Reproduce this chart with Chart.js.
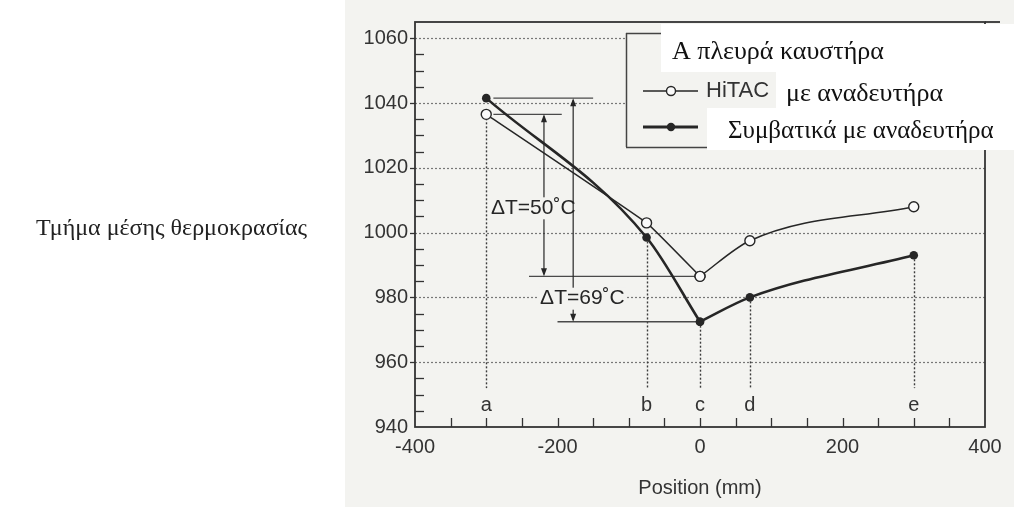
<!DOCTYPE html>
<html>
<head>
<meta charset="utf-8">
<script src="https://cdn.jsdelivr.net/npm/chart.js@4.4.0/dist/chart.umd.min.js"></script>
<style>
    html, body { margin: 0; padding: 0; background: #fff; }
    #wrap { position: relative; width: 1014px; height: 507px; overflow: hidden; }
    #tempChart { position: absolute; left: 0; top: 0; }
    #sideLabel {
        position: absolute; left: 36px; top: 213px; line-height: 28px;
        font-family: "Liberation Serif", "DejaVu Serif", serif; font-size: 24px; color: #222;
    }
</style>
</head>
<body>
<div id="wrap">
    <canvas id="tempChart" width="1014" height="507"></canvas>
    <div id="sideLabel">Τμήμα μέσης θερμοκρασίας</div>
</div>
<script>
// --- DATA ---
const positions = [-300, -75, 0, 70, 300];            // mm
const pointLetters = ['a', 'b', 'c', 'd', 'e'];
const hitacTemps = [1036.5, 1003, 986.5, 997.5, 1008];  // HiTAC with stirrer
const convTemps = [1041.5, 998.5, 972.5, 980, 993];     // conventional with stirrer
const xTickValues = [-400, -200, 0, 200, 400];
const yTickValues = [940, 960, 980, 1000, 1020, 1040, 1060];

const legendTitle = 'Α πλευρά καυστήρα';
const seriesNames = ['HiTAC', 'Συμβατικά με αναδευτήρα'];
const hitacSuffix = 'με αναδευτήρα';

// --- STYLE / LAYOUT ---
const paper = '#f3f3f0';
const ink = '#262626';
const sans = '"Liberation Sans", Arial, sans-serif';
const serif = '"Liberation Serif", "DejaVu Serif", serif';

// annotation placement in data units
const notes = {
    dropBottom: 952,
    letterY: 946.5,
    arrow50X: -219,
    arrow69X: -178,
    label50: { x: -234, y: 1007.5 },
    label69: { x: -165, y: 979.6 },
    topConvEnd: -150,
    topHitacEnd: -194,
    lowHitacStart: -240,
    lowConvStart: -200,
    refStart: -290
};

function toPx(chart, x, y) {
    return [chart.scales.x.getPixelForValue(x), chart.scales.y.getPixelForValue(y)];
}

function hLine(ctx, x1, x2, y) {
    ctx.beginPath(); ctx.moveTo(x1, y); ctx.lineTo(x2, y); ctx.stroke();
}

function vLine(ctx, x, y1, y2) {
    ctx.beginPath(); ctx.moveTo(x, y1); ctx.lineTo(x, y2); ctx.stroke();
}

function arrowHead(ctx, x, y, dir) {
    // dir = -1 points up, 1 points down; tip sits at (x, y)
    ctx.beginPath();
    ctx.moveTo(x, y);
    ctx.lineTo(x - 3, y - dir * 8);
    ctx.lineTo(x + 3, y - dir * 8);
    ctx.closePath();
    ctx.fill();
}

function dimArrow(ctx, x, yTop, yBottom) {
    vLine(ctx, x, yTop + 2, yBottom - 2);
    arrowHead(ctx, x, yTop, -1);
    arrowHead(ctx, x, yBottom, 1);
}

function boxedText(ctx, text, x, y) {
    ctx.font = '21px ' + sans;
    const w = ctx.measureText(text).width;
    ctx.fillStyle = paper;
    ctx.fillRect(x - w / 2 - 2, y - 11, w + 4, 22);
    ctx.fillStyle = ink;
    ctx.textAlign = 'center';
    ctx.textBaseline = 'middle';
    ctx.fillText(text, x, y);
}

// split a series at the minimum (point c) so the dip keeps its sharp corner
function segment(temps, from, to) {
    return positions.slice(from, to).map((p, i) => ({ x: p, y: temps[from + i] }));
}

const figurePlugin = {
    id: 'figurePlugin',
    beforeDraw(chart) {
        const ctx = chart.ctx;
        ctx.save();
        ctx.fillStyle = '#fff';
        ctx.fillRect(0, 0, chart.width, chart.height);
        ctx.fillStyle = paper;
        ctx.fillRect(345, 0, chart.width - 345, chart.height);
        ctx.restore();
    },
    beforeDatasetsDraw(chart) {
        const ctx = chart.ctx;
        const area = chart.chartArea;
        const ys = chart.scales.y;
        const xs = chart.scales.x;
        ctx.save();

        // dotted grid lines
        ctx.strokeStyle = '#777';
        ctx.lineWidth = 1.2;
        ctx.setLineDash([2, 2]);
        yTickValues.slice(1).forEach(v => hLine(ctx, area.left, area.right, Math.round(ys.getPixelForValue(v)) + 0.5));

        // dotted drops from each measuring point
        ctx.strokeStyle = '#3c3c3c';
        ctx.lineWidth = 1.4;
        ctx.setLineDash([2, 2]);
        positions.forEach((p, i) => {
            const low = Math.min(hitacTemps[i], convTemps[i]);
            const [x, y1] = toPx(chart, p, low);
            vLine(ctx, Math.round(x) + 0.5, y1 + 4, ys.getPixelForValue(notes.dropBottom));
        });
        ctx.setLineDash([]);

        // point letters
        ctx.fillStyle = '#333';
        ctx.font = '20px ' + sans;
        ctx.textAlign = 'center';
        ctx.textBaseline = 'middle';
        positions.forEach((p, i) => {
            const [x, y] = toPx(chart, p, notes.letterY);
            ctx.fillText(pointLetters[i], x, y);
        });

        // reference levels for the temperature spread
        ctx.strokeStyle = '#4a4a4a';
        ctx.lineWidth = 1.4;
        const xStart = xs.getPixelForValue(notes.refStart);
        hLine(ctx, xStart, xs.getPixelForValue(notes.topConvEnd), ys.getPixelForValue(convTemps[0]));
        hLine(ctx, xStart, xs.getPixelForValue(notes.topHitacEnd), ys.getPixelForValue(hitacTemps[0]));
        hLine(ctx, xs.getPixelForValue(notes.lowHitacStart), xs.getPixelForValue(0), ys.getPixelForValue(hitacTemps[2]));
        hLine(ctx, xs.getPixelForValue(notes.lowConvStart), xs.getPixelForValue(0), ys.getPixelForValue(convTemps[2]));

        // delta-T arrows and labels
        ctx.strokeStyle = ink;
        ctx.fillStyle = ink;
        ctx.lineWidth = 1.2;
        const dHitac = Math.round(hitacTemps[0] - hitacTemps[2]);
        const dConv = Math.round(convTemps[0] - convTemps[2]);
        dimArrow(ctx, xs.getPixelForValue(notes.arrow50X), ys.getPixelForValue(hitacTemps[0]), ys.getPixelForValue(hitacTemps[2]));
        boxedText(ctx, 'ΔT=' + dHitac + '˚C', xs.getPixelForValue(notes.label50.x), ys.getPixelForValue(notes.label50.y));
        ctx.strokeStyle = ink;
        ctx.fillStyle = ink;
        dimArrow(ctx, xs.getPixelForValue(notes.arrow69X), ys.getPixelForValue(convTemps[0]), ys.getPixelForValue(convTemps[2]));
        boxedText(ctx, 'ΔT=' + dConv + '˚C', xs.getPixelForValue(notes.label69.x), ys.getPixelForValue(notes.label69.y));

        // frame
        ctx.strokeStyle = '#333';
        ctx.lineWidth = 1.8;
        ctx.strokeRect(area.left, area.top, area.right - area.left, area.bottom - area.top);
        hLine(ctx, area.right, 1000, area.top);

        // tick marks: minor ones point inward, labelled ones stick out on the left
        ctx.lineWidth = 1.3;
        for (let v = 945; v < 1065; v += 5) {
            const y = Math.round(ys.getPixelForValue(v)) + 0.5;
            if (v % 20 === 0) hLine(ctx, area.left - 5, area.left, y);
            else hLine(ctx, area.left, area.left + 9, y);
        }
        for (let v = -350; v < 400; v += 50) {
            const x = Math.round(xs.getPixelForValue(v)) + 0.5;
            vLine(ctx, x, area.bottom, area.bottom - 9);
        }
        ctx.restore();
    },
    afterDatasetsDraw(chart) {
        const ctx = chart.ctx;
        ctx.save();

        // legend block
        ctx.fillStyle = paper;
        ctx.fillRect(626, 33, 388, 114);
        ctx.fillStyle = '#fff';
        ctx.fillRect(661, 24, 353, 48);
        ctx.fillRect(776, 72, 238, 38);
        ctx.fillRect(707, 108, 307, 42);

        ctx.strokeStyle = '#444';
        ctx.lineWidth = 1.5;
        vLine(ctx, 626.5, 33, 147);
        hLine(ctx, 626, 661, 33.5);
        hLine(ctx, 626, 707, 147.5);

        // legend samples
        ctx.strokeStyle = ink;
        ctx.lineWidth = 1.4;
        hLine(ctx, 643, 698, 91);
        ctx.beginPath();
        ctx.arc(671, 91, 4.5, 0, Math.PI * 2);
        ctx.fillStyle = '#fafafa';
        ctx.fill();
        ctx.stroke();
        ctx.lineWidth = 2.8;
        hLine(ctx, 643, 698, 127);
        ctx.beginPath();
        ctx.arc(671, 127, 4.2, 0, Math.PI * 2);
        ctx.fillStyle = ink;
        ctx.fill();

        ctx.fillStyle = '#111';
        ctx.textAlign = 'left';
        ctx.textBaseline = 'middle';
        ctx.font = '26px ' + serif;
        ctx.fillText(legendTitle, 672, 52);
        ctx.fillText(hitacSuffix, 786, 94);
        ctx.font = '25px ' + serif;
        ctx.fillText(seriesNames[1], 728, 131);
        ctx.fillStyle = '#333';
        ctx.font = '22px ' + sans;
        ctx.fillText(seriesNames[0], 706, 91);
        ctx.restore();
    }
};

const hitacStyle = {
    label: seriesNames[0],
    borderColor: ink,
    borderWidth: 1.5,
    pointRadius: 5,
    pointBorderWidth: 1.4,
    pointBackgroundColor: '#fafafa',
    pointBorderColor: ink
};
const convStyle = {
    label: seriesNames[1],
    borderColor: ink,
    borderWidth: 2.6,
    pointRadius: 4.3,
    pointBorderWidth: 0,
    pointBackgroundColor: ink,
    cubicInterpolationMode: 'monotone'
};

const ctx = document.getElementById('tempChart').getContext('2d');

const chart = new Chart(ctx, {
    type: 'line',
    data: {
        datasets: [
            { ...hitacStyle, data: segment(hitacTemps, 0, 3), tension: 0.1 },
            { ...hitacStyle, data: segment(hitacTemps, 2, 5), cubicInterpolationMode: 'monotone' },
            { ...convStyle, data: segment(convTemps, 0, 3) },
            { ...convStyle, data: segment(convTemps, 2, 5) }
        ]
    },
    options: {
        responsive: false,
        animation: false,
        events: [],
        layout: { padding: { left: 350, right: 29, top: 22, bottom: 0 } },
        plugins: { legend: { display: false }, tooltip: { enabled: false } },
        scales: {
            x: {
                type: 'linear',
                min: -400,
                max: 400,
                afterBuildTicks: s => { s.ticks = xTickValues.map(v => ({ value: v })); },
                afterFit: s => { s.height = 80; },
                grid: { display: false, drawTicks: false },
                border: { display: false },
                ticks: { padding: 8, color: '#333', font: { family: sans, size: 20 }, maxRotation: 0, autoSkip: false, callback: v => String(v) },
                title: { display: true, text: 'Position (mm)', color: '#333', font: { family: sans, size: 20 }, padding: { top: 4, bottom: 7 } }
            },
            y: {
                type: 'linear',
                min: 940,
                max: 1065,
                afterBuildTicks: s => { s.ticks = yTickValues.map(v => ({ value: v })); },
                afterFit: s => { s.width = 65; },
                grid: { display: false, drawTicks: false },
                border: { display: false },
                ticks: { padding: 7, color: '#333', font: { family: sans, size: 20 }, autoSkip: false, callback: v => String(v) }
            }
        }
    },
    plugins: [figurePlugin]
});
</script>
</body>
</html>
